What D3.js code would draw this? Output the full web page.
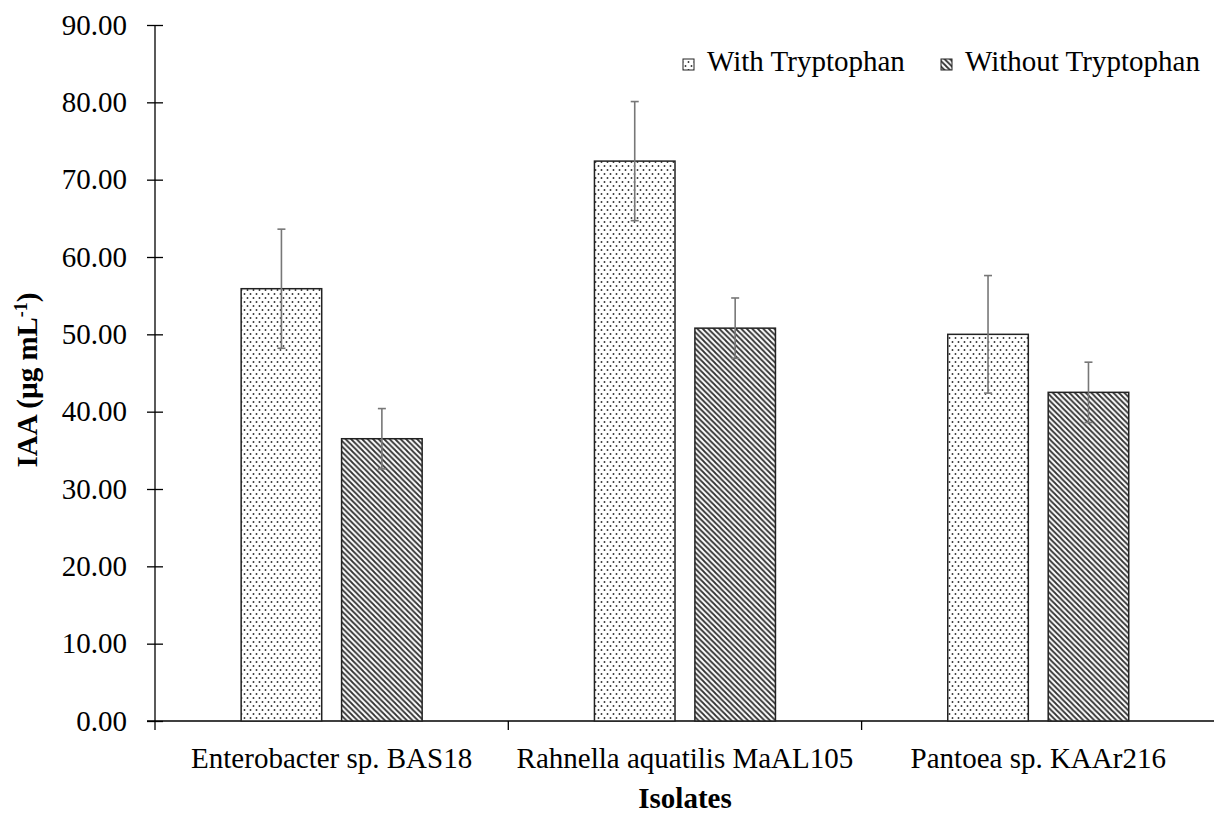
<!DOCTYPE html>
<html><head><meta charset="utf-8">
<script src="https://cdn.jsdelivr.net/npm/d3@7"></script>
<style>body{margin:0;background:#fff}svg{display:block}</style>
</head><body>
<script>
const categories = ["Enterobacter sp. BAS18", "Rahnella aquatilis MaAL105", "Pantoea sp. KAAr216"];
const seriesNames = ["With Tryptophan", "Without Tryptophan"];
const withTrp = [55.9, 72.4, 50.0];
const withoutTrp = [36.5, 50.8, 42.5];
const withErr = [7.7, 7.7, 7.6];
const withoutErr = [3.9, 3.9, 3.9];
const yTicks = [0, 10, 20, 30, 40, 50, 60, 70, 80, 90];

const W = 1214, H = 833;
const svg = d3.select("body").append("svg").attr("width", W).attr("height", H);
const font = "'Liberation Serif', 'Times New Roman', serif";
const FS = 29;

const defs = svg.append("defs");
const pd = defs.append("pattern").attr("id", "dots").attr("patternUnits", "userSpaceOnUse")
  .attr("width", 6).attr("height", 8);
pd.append("rect").attr("width", 6).attr("height", 8).attr("fill", "#fff");
pd.append("circle").attr("cx", 1.5).attr("cy", 2).attr("r", 0.95).attr("fill", "#333");
pd.append("circle").attr("cx", 4.5).attr("cy", 6).attr("r", 0.95).attr("fill", "#333");
const pl = defs.append("pattern").attr("id", "diag").attr("patternUnits", "userSpaceOnUse")
  .attr("width", 5.5).attr("height", 5.5);
pl.append("rect").attr("width", 5.5).attr("height", 5.5).attr("fill", "#fff");
pl.append("path").attr("d", "M-1,-1L6.5,6.5M-1,4.5L1,6.5M4.5,-1L6.5,1")
  .attr("stroke", "#333").attr("stroke-width", 1.8);

const x0 = 155, x1 = 1215, yTop = 25, yBot = 721;
const x = d3.scaleBand().domain(categories).range([x0, x0 + 3 * 353.3]);
const y = d3.scaleLinear().domain([0, 90]).range([yBot, yTop]);
const groupW = 181;
const sub = d3.scaleBand().domain(seriesNames).range([0, groupW]).paddingInner(20 / 101);
const barOffset = (x.bandwidth() - groupW) / 2;

// axes
const yAxis = d3.axisLeft(y).tickValues(yTicks).tickSize(8).tickFormat(d3.format(".2f"));
const gy = svg.append("g").attr("transform", `translate(${x0},0)`).call(yAxis);
gy.select(".domain").attr("d", `M0,${yTop}V${yBot}`).attr("stroke", "#000").attr("stroke-width", 1.3);
gy.selectAll(".tick line").attr("stroke", "#000").attr("x1", 8).attr("x2", -8).attr("stroke-width", 1.3);
gy.selectAll(".tick text").attr("font-family", font).attr("font-size", FS).attr("fill", "#000").attr("x", -28);

const xAxis = d3.axisBottom(x).tickSize(0).tickFormat(d => d);
const gx = svg.append("g").attr("transform", `translate(0,${yBot})`).call(xAxis);
gx.select(".domain").attr("d", `M${x0 - 8},0H${x1}`).attr("stroke", "#000").attr("stroke-width", 1.3);
gx.selectAll(".tick text").attr("font-family", font).attr("font-size", FS).attr("fill", "#000").attr("dy", 0).attr("y", 47);
const sepTicks = categories.map(c => x(c));
gx.selectAll(".sep").data(sepTicks).enter().append("line").attr("class", "sep")
  .attr("x1", d => d).attr("x2", d => d).attr("y1", 0).attr("y2", 9).attr("stroke", "#000").attr("stroke-width", 1.3);

// bars
const data = [];
categories.forEach((c, i) => {
  data.push({c, s: seriesNames[0], v: withTrp[i], e: withErr[i], fill: "url(#dots)"});
  data.push({c, s: seriesNames[1], v: withoutTrp[i], e: withoutErr[i], fill: "url(#diag)"});
});
const gb = svg.append("g");
gb.selectAll("rect").data(data).enter().append("rect")
  .attr("x", d => x(d.c) + barOffset + sub(d.s))
  .attr("width", sub.bandwidth())
  .attr("y", d => y(d.v))
  .attr("height", d => y(0) - y(d.v))
  .attr("fill", d => d.fill)
  .attr("stroke", "#222").attr("stroke-width", 1.5);

// error bars
const ge = svg.append("g").attr("stroke", "#777").attr("stroke-width", 1.6);
data.forEach(d => {
  const cx = x(d.c) + barOffset + sub(d.s) + sub.bandwidth() / 2;
  ge.append("line").attr("x1", cx).attr("x2", cx).attr("y1", y(d.v + d.e)).attr("y2", y(d.v - d.e));
  ge.append("line").attr("x1", cx - 4).attr("x2", cx + 4).attr("y1", y(d.v + d.e)).attr("y2", y(d.v + d.e));
  ge.append("line").attr("x1", cx - 4).attr("x2", cx + 4).attr("y1", y(d.v - d.e)).attr("y2", y(d.v - d.e));
});

// axis titles
svg.append("text").attr("transform", `translate(37,380) rotate(-90)`)
  .attr("text-anchor", "middle").attr("font-family", font).attr("font-size", FS).attr("font-weight", "bold")
  .html('IAA (µg mL<tspan baseline-shift="super" font-size="18">-1</tspan>)');
svg.append("text").attr("x", 685).attr("y", 808).attr("text-anchor", "middle")
  .attr("font-family", font).attr("font-size", FS).attr("font-weight", "bold").text("Isolates");

// legend
const legX = [683, 941];
const lg = svg.append("g");
seriesNames.forEach((s, i) => {
  lg.append("rect").attr("x", legX[i]).attr("y", 59).attr("width", 11).attr("height", 11)
    .attr("fill", i === 0 ? "url(#dots)" : "url(#diag)").attr("stroke", "#222").attr("stroke-width", 1);
  lg.append("text").attr("x", legX[i] + 24).attr("y", 71).attr("font-family", font)
    .attr("font-size", FS).attr("fill", "#000").text(s);
});
</script>
</body></html>
